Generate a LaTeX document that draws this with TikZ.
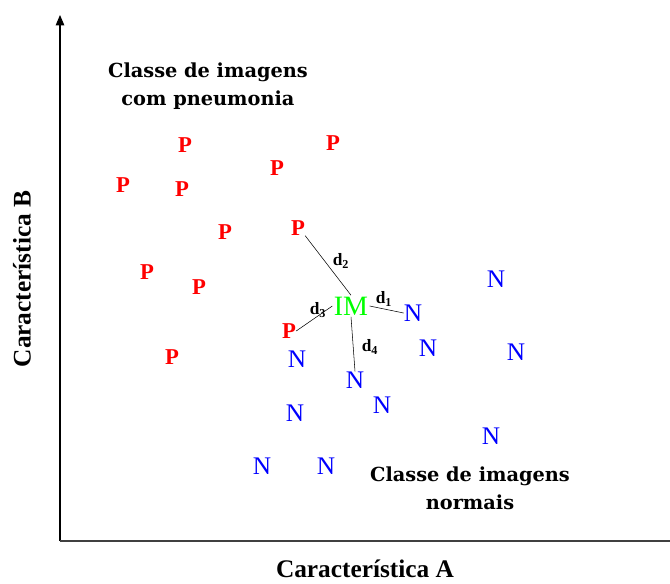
\documentclass[tikz,border=0pt]{standalone}
\usepackage{fontspec}
\setmainfont{Liberation Serif}
\newfontfamily\slab{DejaVu Serif}
\usetikzlibrary{arrows}
\usetikzlibrary{positioning}

\begin{document}
\begin{tikzpicture}[x=0.75pt, y=-0.75pt, pneu/.style={text=red, font=\fontsize{17}{17}\selectfont\bfseries, inner sep=0pt}, normal/.style={text=blue, font=\fontsize{19}{19}\selectfont, inner sep=0pt}]
\tikzstyle{rotulo}=[font=\slab\fontsize{14.5}{21}\selectfont\bfseries, align=center]
\tikzstyle{eixo}=[font=\fontsize{19}{19}\selectfont\bfseries]
\tikzstyle{dist}=[font=\fontsize{13}{13}\selectfont\bfseries, inner sep=0pt]
\tikzset {>=triangle 45}

\useasboundingbox (0,0) rectangle (670,583);

% eixos
\coordinate (O) at (60,541);
\coordinate (topo) at (60,15);
\coordinate (fim) at (670,541);
\draw [->, thick](O) -- (topo);
\draw [very thick, black!75](O) -- (fim);
\node (eixoA) [eixo] at (365,569) {Característica A};
\node (eixoB) [eixo, rotate=90] at (22,279) {Característica B};

% imagens com pneumonia
\node (P1) [pneu] at (185,145) {P};
\node (P2) [pneu] at (333,143) {P};
\node (P3) [pneu] at (277,168) {P};
\node (P4) [pneu] at (123,185) {P};
\node (P5) [pneu] at (182,189) {P};
\node (P6) [pneu] at (225,232) {P};
\node (P7) [pneu] at (298,228) {P};
\node (P8) [pneu] at (147,272) {P};
\node (P9) [pneu] at (199,287) {P};
\node (P10) [pneu] at (289,331) {P};
\node (P11) [pneu] at (172,357) {P};

% imagens normais
\node (N1) [normal] at (496,279) {N};
\node (N2) [normal] at (413,313) {N};
\node (N3) [normal] at (428,348) {N};
\node (N4) [normal] at (516,352) {N};
\node (N5) [normal] at (297,359) {N};
\node (N6) [normal] at (355,380) {N};
\node (N7) [normal] at (382,405) {N};
\node (N8) [normal] at (295,413) {N};
\node (N9) [normal] at (491,436) {N};
\node (N10) [normal] at (262,466) {N};
\node (N11) [normal] at (326,466) {N};

% imagem a classificar
\node (IM) [text=green, font=\fontsize{21}{21}\selectfont, inner sep=1pt] at (351,306) {IM};

% distancias
\draw (IM.north) -- (P7.south east);
\draw (IM.east) -- (N2.west);
\draw (IM.west) -- (P10.east);
\draw (IM.south) -- (N6.north);

\node (d1) [dist] at (384,299) {d$_{\mathbf{1}}$};
\node (d2) [dist] at (341,261) {d$_{\mathbf{2}}$};
\node (d3) [dist] at (318,310) {d$_{\mathbf{3}}$};
\node (d4) [dist] at (370,347) {d$_{\mathbf{4}}$};

% classes
\node (cpneu) [rotulo] at (208,86) {Classe de imagens\\com pneumonia};
\node (cnorm) [rotulo] at (470,488) {Classe de imagens\\normais};
\end{tikzpicture}
\end{document}
